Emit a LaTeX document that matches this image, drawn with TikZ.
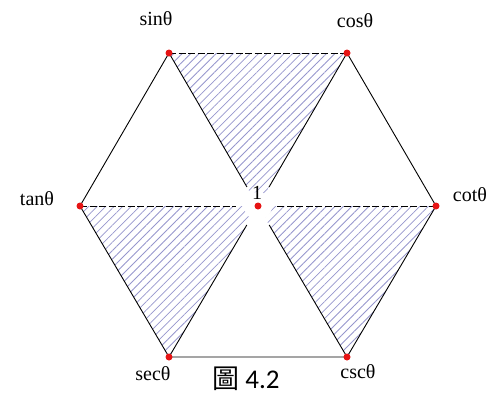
\documentclass[tikz,border=0pt]{standalone}
\usepackage{fontspec}
\setmainfont{Liberation Serif}
\newfontfamily\cjkfont{Noto Sans CJK TC}
\newfontfamily\capfont{Carlito}
\usetikzlibrary{patterns.meta}
\definecolor{hatchc}{RGB}{150,150,205}
\definecolor{dotred}{RGB}{230,20,20}
\tikzset{
  hatch/.style={pattern={Lines[angle=45,distance=6pt,line width=0.8pt]},pattern color=hatchc},
  edge/.style={draw=black,line width=0.9pt},
  dashedge/.style={draw=black,line width=0.9pt,dash pattern=on 7pt off 2.5pt},
  vtx/.style={circle,fill=dotred,inner sep=0pt,minimum size=7pt},
  lbl/.style={font=\fontsize{20}{22}\selectfont,inner sep=0pt}
}
\begin{document}
\begin{tikzpicture}[x=1pt,y=-1pt]
\useasboundingbox (0,0) rectangle (501,397);
% coordinates
\coordinate (S) at (169,53);
\coordinate (C) at (347,53);
\coordinate (T) at (80,206);
\coordinate (K) at (436,206);
\coordinate (O) at (258,206);
\coordinate (E) at (169,357);
\coordinate (Q) at (347,357);
% hatched triangles
\fill[hatch] (S) -- (C) -- (O) -- cycle;
\fill[hatch] (T) -- (O) -- (E) -- cycle;
\fill[hatch] (O) -- (K) -- (Q) -- cycle;
% white gap at center
\fill[white] (O) circle (14);
% outer hexagon
\draw[edge] (S) -- (T) -- (E) -- (Q) -- (K) -- (C);
\draw[dashedge] (S) -- (C);
% spokes
\draw[edge, shorten >=22pt] (S) -- (O);
\draw[edge, shorten >=22pt] (C) -- (O);
\draw[edge, shorten >=22pt] (E) -- (O);
\draw[edge, shorten >=22pt] (Q) -- (O);
\draw[dashedge, shorten >=22pt] (T) -- (O);
\draw[dashedge, shorten >=18pt] (K) -- (O);
% vertices
\node[vtx] (s) at (S) {};
\node[vtx] (c) at (C) {};
\node[vtx] (t) at (T) {};
\node[vtx] (k) at (K) {};
\node[vtx] (o) at (O) {};
\node[vtx] (e) at (E) {};
\node[vtx] (q) at (Q) {};
% labels
\node[lbl] (ls) at (156,19) {sinθ};
\node[lbl] (lc) at (355,21) {cosθ};
\node[lbl] (lt) at (37,199) {tanθ};
\node[lbl] (lk) at (470,195) {cotθ};
\node[lbl] (le) at (153,374) {secθ};
\node[lbl] (lq) at (358,372) {cscθ};
\node[lbl] (lo) at (257,193) {1};
\node[inner sep=0pt] (cap) at (246,379) {\cjkfont\fontsize{27}{29}\selectfont 圖 \capfont 4.2};
\end{tikzpicture}
\end{document}
